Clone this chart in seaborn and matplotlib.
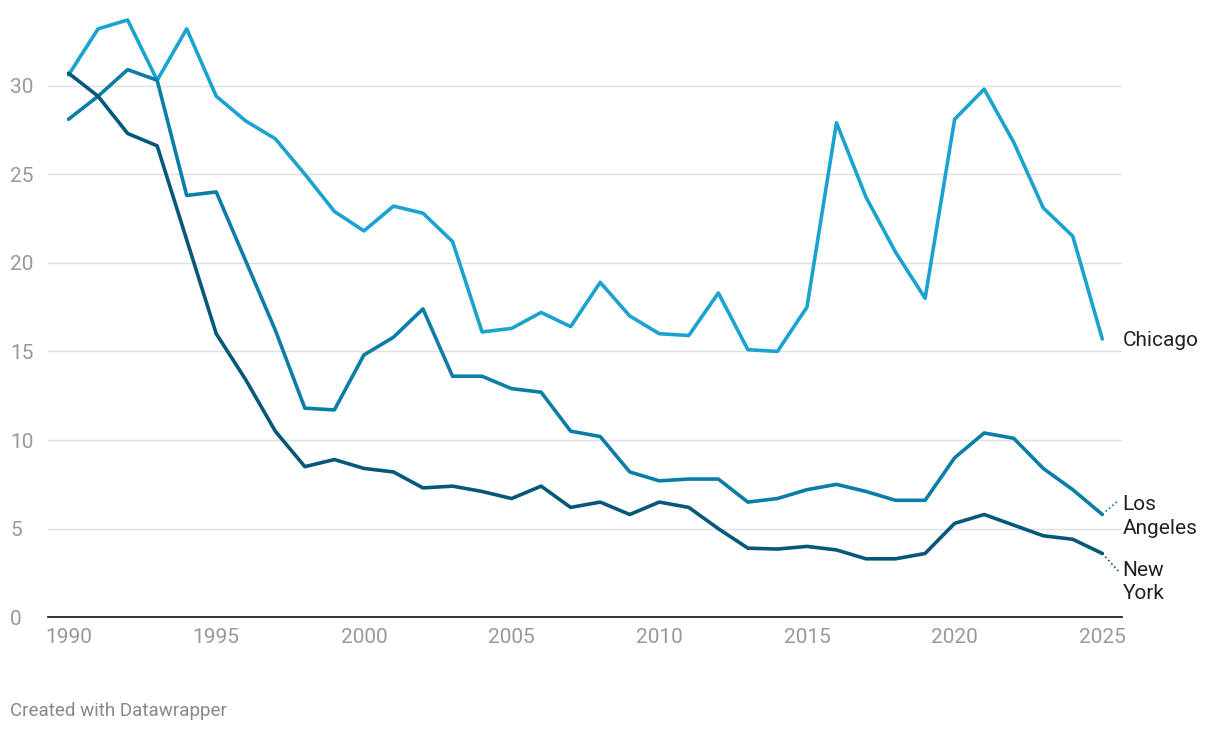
import pandas as pd
import seaborn as sns
import matplotlib.pyplot as plt

sns.set_style("white")
plt.rcParams['font.family'] = ['Roboto', 'DejaVu Sans']

years = list(range(1990, 2026))
chicago = [30.6, 33.2, 33.7, 30.3, 33.2, 29.4, 28.0, 27.0, 25.0, 22.9, 21.8, 23.2, 22.8, 21.2,
           16.1, 16.3, 17.2, 16.4, 18.9, 17.0, 16.0, 15.9, 18.3, 15.1, 15.0, 17.5, 27.9, 23.7,
           20.6, 18.0, 28.1, 29.8, 26.8, 23.1, 21.5, 15.7]
los_angeles = [28.1, 29.4, 30.9, 30.3, 23.8, 24.0, 20.1, 16.2, 11.8, 11.7, 14.8, 15.8, 17.4, 13.6,
               13.6, 12.9, 12.7, 10.5, 10.2, 8.2, 7.7, 7.8, 7.8, 6.5, 6.7, 7.2, 7.5, 7.1,
               6.6, 6.6, 9.0, 10.4, 10.1, 8.4, 7.2, 5.8]
new_york = [30.7, 29.4, 27.3, 26.6, 21.3, 16.0, 13.4, 10.5, 8.5, 8.9, 8.4, 8.2, 7.3, 7.4,
            7.1, 6.7, 7.4, 6.2, 6.5, 5.8, 6.5, 6.2, 5.0, 3.9, 3.85, 4.0, 3.8, 3.3,
            3.3, 3.6, 5.3, 5.8, 5.2, 4.6, 4.4, 3.6]
cities = ['Chicago', 'Los Angeles', 'New York']
colors = {'Chicago': '#1ba3cf', 'Los Angeles': '#0a7ea6', 'New York': '#06587a'}

df = pd.DataFrame({'year': years * 3,
                   'value': chicago + los_angeles + new_york,
                   'city': [c for c in cities for _ in years]})

fig = plt.figure(figsize=(12.2, 7.34), dpi=100)
ax = fig.add_axes([0.039, 0.159, 0.881, 0.821])
sns.lineplot(data=df, x='year', y='value', hue='city', palette=colors,
             linewidth=2.6, legend=False, ax=ax)

ax.set_xlim(1989.29, 2025.68)
ax.set_ylim(0, 34)
ax.set_yticks([0, 5, 10, 15, 20, 25, 30])
ax.set_xticks(range(1990, 2026, 5))
ax.grid(axis='y', color='#e0e0e0', linewidth=1)
for s in ['top', 'right', 'left']:
    ax.spines[s].set_visible(False)
ax.spines['bottom'].set_color('#222222')
ax.spines['bottom'].set_linewidth(1.3)
ax.set_xlabel('')
ax.set_ylabel('')
ax.tick_params(axis='y', length=0, pad=27, labelsize=15, labelcolor='#999999')
for t in ax.get_yticklabels():
    t.set_horizontalalignment('left')
ax.tick_params(axis='x', length=0, pad=8, labelsize=15, labelcolor='#999999')
ax.set_axisbelow(True)

ax.text(2025.68, 15.6, 'Chicago', fontsize=15, color='#222222', va='center')
ax.text(2025.68, 5.7, 'Los\nAngeles', fontsize=15, color='#222222', va='center', linespacing=1.3)
ax.text(2025.68, 2.0, 'New\nYork', fontsize=15, color='#222222', va='center', linespacing=1.3)
ax.plot([2025, 2025.55], [los_angeles[-1], 6.6], ls=':', color=colors['Los Angeles'], lw=1.2, clip_on=False)
ax.plot([2025, 2025.55], [new_york[-1], 2.6], ls=':', color=colors['New York'], lw=1.2, clip_on=False)

fig.text(10 / 1220, 1 - 711 / 734, 'Created with Datawrapper', fontsize=13.5, color='#888888', va='center')
fig.savefig('out.png', dpi=100)
